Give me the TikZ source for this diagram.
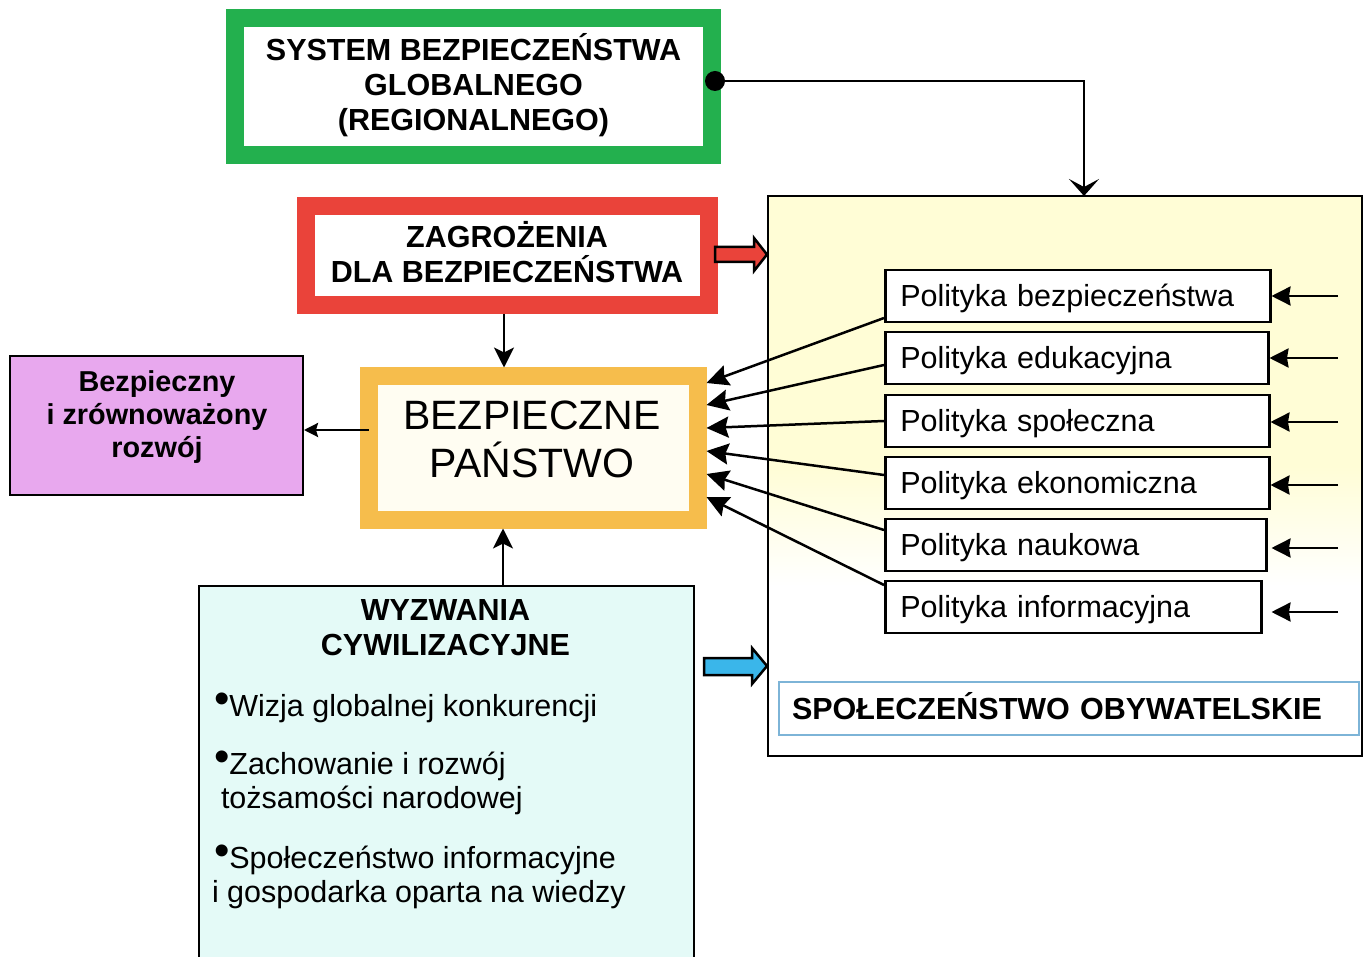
\documentclass[tikz,border=0pt]{standalone}
\usepackage{fontspec}
\setmainfont{Liberation Sans}
\usetikzlibrary{arrows.meta,calc}

\definecolor{gfr}{RGB}{35,176,78}
\definecolor{rfr}{RGB}{234,67,58}
\definecolor{ofr}{RGB}{246,189,76}
\definecolor{ofill}{RGB}{255,253,242}
\definecolor{pfill}{RGB}{232,168,238}
\definecolor{cfill}{RGB}{228,250,247}
\definecolor{yfill}{RGB}{255,253,214}
\definecolor{barrow}{RGB}{58,182,234}
\definecolor{sline}{RGB}{125,180,215}

\newcommand\setfs[2]{\fontsize{#1}{#2}\selectfont}
\newcommand\blt{\raisebox{2.5pt}{\setfs{44}{44}•}}

\tikzset{
  frame/.style={line width=18pt, inner sep=0pt},
  plain/.style={inner sep=0pt, outer sep=0pt},
  head/.style={plain, font=\setfs{30.5}{35}\bfseries, align=center, anchor=base},
  body/.style={plain, font=\setfs{30.5}{34}, align=left, anchor=base west},
  policy/.style={draw, line width=2.5pt, fill=white, anchor=west,
    inner xsep=15pt, inner ysep=0pt, minimum height=52pt, align=left,
    text height=21.8pt, text depth=0pt, font=\setfs{30.5}{35}},
  conn/.style={line width=2.5pt},
  vtip/.style={conn, -{Stealth[length=20pt, width=20pt, inset=5pt]}},
  ptip/.style={conn, -{Stealth[length=22pt, width=21pt, inset=3pt]}},
  rtip/.style={conn, -{Stealth[length=19pt, width=19pt, inset=1.5pt]}},
  blockarrow/.style={draw=black, line width=2.5pt, line join=miter},
}

\begin{document}
\begin{tikzpicture}[x=1pt, y=-1pt]
\useasboundingbox (0,0) rectangle (1366,957);
\clip (0,0) rectangle (1366,957);

% ---- right panel: civil society ----
\path node[plain, minimum width=594pt, minimum height=560pt, anchor=north west] (panel) at (768,196) {};
\fill[yfill] (panel.north west) rectangle ($(panel.north east)+(0,270)$);
\shade[top color=yfill, bottom color=white] ($(panel.north west)+(0,270)$) rectangle ($(panel.north east)+(0,390)$);
\draw[line width=2pt] (panel.north west) rectangle (panel.south east);

% ---- global security system ----
\node[frame, draw=gfr, fill=white, minimum width=477pt, minimum height=137pt] (sys) at (473.5,86.5) {};
\node[head] (systxt) at (473.5,131) {SYSTEM BEZPIECZEŃSTWA\\GLOBALNEGO\\(REGIONALNEGO)};

% ---- threats ----
\node[frame, draw=rfr, fill=white, minimum width=403pt, minimum height=99.5pt] (zag) at (507,255.75) {};
\node[head] (zagtxt) at (507,283) {ZAGROŻENIA\\DLA BEZPIECZEŃSTWA};

% ---- secure state ----
\node[frame, draw=ofr, fill=ofill, minimum width=329pt, minimum height=143pt] (bp) at (533,448) {};
\node[plain, font=\setfs{41}{48}, align=center, anchor=base] (bptxt) at (532,477.7) {BEZPIECZNE\\PAŃSTWO};

% ---- sustainable development ----
\node[draw, line width=2pt, fill=pfill, minimum width=293pt, minimum height=139pt, inner sep=0pt] (pur) at (156.5,425.5) {};
\node[plain, font=\setfs{28.8}{33}\bfseries, align=center, anchor=base] (purtxt) at (157,457.3) {Bezpieczny\\i zrównoważony\\rozwój};

% ---- civilisation challenges ----
\node[draw, line width=2pt, fill=cfill, minimum width=495pt, minimum height=400pt, anchor=north west, inner sep=0pt] (wyz) at (198,585) {};
\node[head] (wyztxt) at (445.5,655) {WYZWANIA\\CYWILIZACYJNE};
\node[body] (w1) at (214,716) {\blt Wizja globalnej konkurencji};
\node[body] (w2) at (214,808) {\blt Zachowanie i rozwój\\\hspace*{7pt}tożsamości narodowej};
\node[body] (w3) at (214,902) {\blt Społeczeństwo informacyjne\\\hspace*{-2pt}i gospodarka oparta na wiedzy};

% ---- policies ----
\node[policy, text width=355pt] (P1) at (884,296) {Polityka bezpieczeństwa};
\node[policy, text width=353pt] (P2) at (884,358) {Polityka edukacyjna};
\node[policy, text width=354pt] (P3) at (884,421) {Polityka społeczna};
\node[policy, text width=354pt] (P4) at (884,483) {Polityka ekonomiczna};
\node[policy, text width=351pt] (P5) at (884,545) {Polityka naukowa};
\node[policy, text width=346pt] (P6) at (884,607) {Polityka informacyjna};

\node[draw=sline, line width=1.5pt, fill=white, minimum width=580pt, minimum height=53pt,
      inner xsep=13pt, inner ysep=0pt, text width=554pt, align=left,
      text height=21.8pt, text depth=0pt, font=\setfs{30.5}{35}\bfseries] (spo) at (1069,708.5)
      {SPOŁECZEŃSTWO OBYWATELSKIE};

% ---- connectors ----
\coordinate (sysdot) at (715,81);
\fill (sysdot) circle (10pt);
\draw[conn, -{Stealth[length=17pt, width=30pt, inset=8pt]}] (sysdot) -| ([xshift=19pt]panel.north);

\draw[vtip] ([xshift=-3pt]zag.south) -- ([xshift=-3pt]zag.south |- bp.north);
\draw[vtip] ([xshift=-30pt]bp.south |- wyz.north) -- ([xshift=-30pt]bp.south);
\draw[conn, -{Stealth[length=14pt, width=14pt, inset=2pt]}] ([xshift=9pt, yshift=18pt]bp.west) -- ([yshift=18pt]bp.west -| pur.east);

\draw[ptip] ([yshift=-22pt]P1.west) -- ([yshift=65pt]bp.east);
\draw[ptip] ([yshift=-7pt]P2.west) -- ([yshift=43pt]bp.east);
\draw[ptip] (P3.west) -- ([yshift=20pt]bp.east);
\draw[ptip] ([yshift=8pt]P4.west) -- ([yshift=-3pt]bp.east);
\draw[ptip] ([yshift=15pt]P5.west) -- ([yshift=-26pt]bp.east);
\draw[ptip] ([yshift=22pt]P6.west) -- ([yshift=-49pt]bp.east);

\coordinate (r1) at (1338,296);
\coordinate (r2) at (1338,358);
\coordinate (r3) at (1338,422);
\coordinate (r4) at (1338,485);
\coordinate (r5) at (1338,548);
\coordinate (r6) at (1338,612);
\draw[rtip] (r1) -- (r1 -| P1.east);
\draw[rtip] (r2) -- (r2 -| P2.east);
\draw[rtip] (r3) -- (r3 -| P3.east);
\draw[rtip] (r4) -- (r4 -| P4.east);
\draw[rtip, shorten >=4pt] (r5) -- (r5 -| P5.east);
\draw[rtip, shorten >=9pt] (r6) -- (r6 -| P6.east);

% ---- block arrows into the panel ----
\filldraw[blockarrow, fill=rfr] (715,247) -- (754,247) -- (754,238) -- (767,254.5)
  -- (754,271) -- (754,262) -- (715,262) -- cycle;
\filldraw[blockarrow, fill=barrow] (704,658) -- (752,658) -- (752,648) -- (767,666)
  -- (752,684) -- (752,675) -- (704,675) -- cycle;
\end{tikzpicture}
\end{document}
